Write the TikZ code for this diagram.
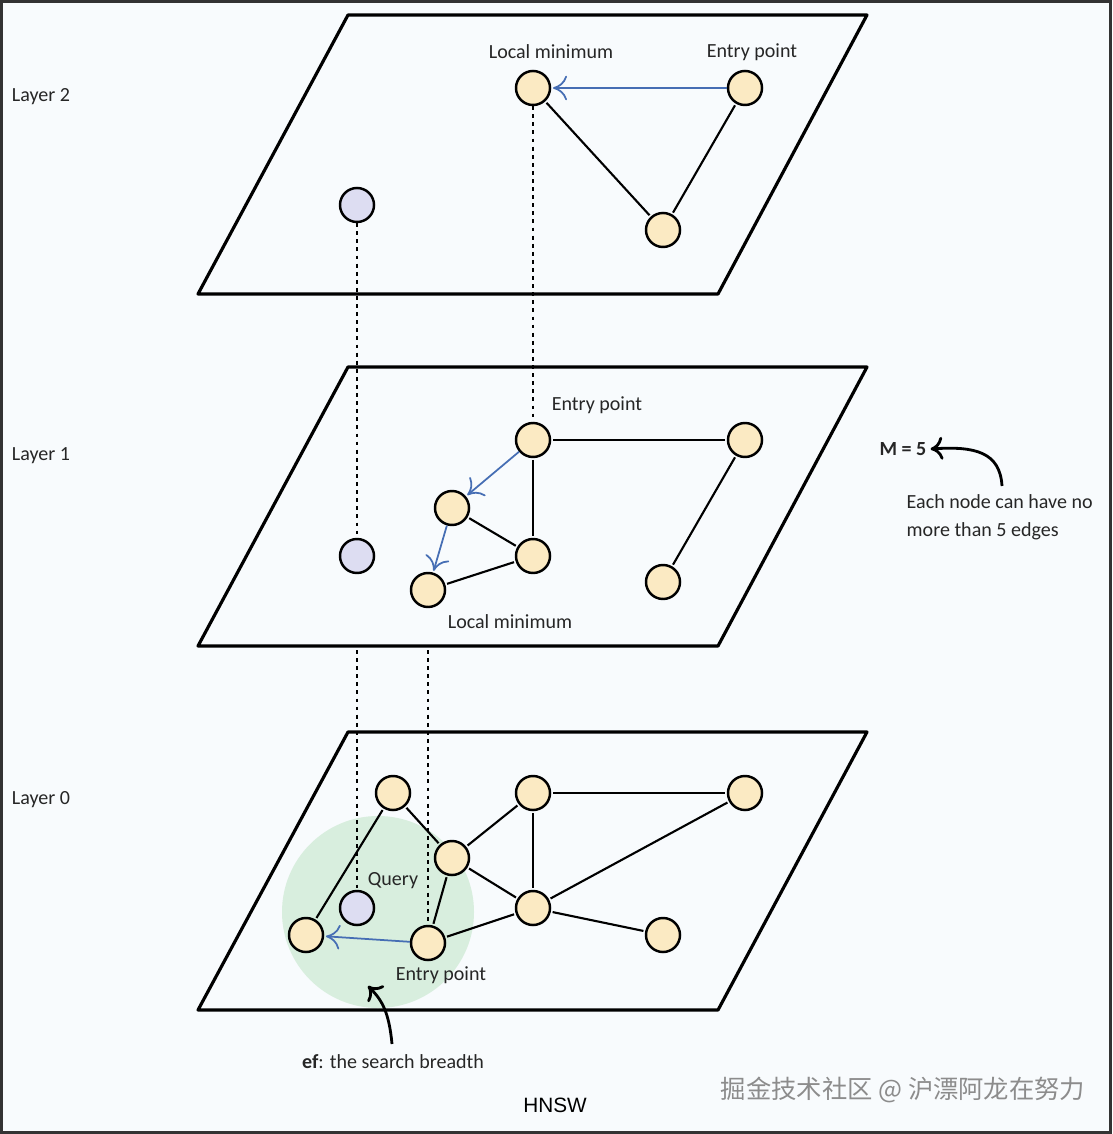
\documentclass[tikz,border=0pt]{standalone}
\usepackage{fontspec}
\setmainfont{Carlito}
\newfontfamily\hnswfont{Liberation Sans}
\newfontfamily\cjk{Noto Sans CJK SC}
\usetikzlibrary{arrows.meta}
\definecolor{bgc}{RGB}{248,251,253}
\definecolor{nodefill}{RGB}{251,234,195}
\definecolor{qfill}{RGB}{221,221,242}
\definecolor{efgreen}{RGB}{216,238,222}
\definecolor{bluearr}{RGB}{70,110,180}
\definecolor{wm}{RGB}{140,140,140}
\tikzset{
  plane/.style={draw=black,line width=0.9pt,line join=round},
  gnode/.style={circle,draw=black,line width=0.7pt,fill=nodefill,minimum size=0.34cm,inner sep=0pt},
  qnode/.style={circle,draw=black,line width=0.7pt,fill=qfill,minimum size=0.34cm,inner sep=0pt},
  edge/.style={draw=black,line width=0.6pt,shorten <=0.5pt,shorten >=0.5pt},
  dots/.style={draw=black,line width=0.65pt,dash pattern=on 1.1pt off 1.2pt},
  search/.style={draw=bluearr,line width=0.5pt,shorten >=0.5pt,-{To[length=4pt,width=7pt]}},
  lbl/.style={font=\fontsize{5.7}{6.8}\selectfont,text=black!85,inner sep=0pt},
  note/.style={draw=black,line width=0.8pt,-{To[length=3.5pt,width=6.5pt]}}
}
\begin{document}
\begin{tikzpicture}[x=0.01cm,y=-0.01cm]
\useasboundingbox (0,0) rectangle (1112,1134);
\draw[fill=bgc,draw=black!80,line width=0.8pt] (1.5,1.5) rectangle (1110.5,1132.5);

% planes
\draw[plane] (348,15) -- (867,15) -- (718,294) -- (198,294) -- cycle;
\draw[plane] (348,367) -- (867,367) -- (718,646) -- (198,646) -- cycle;
\draw[plane] (348,732) -- (867,732) -- (718,1010) -- (198,1010) -- cycle;

% search breadth
\fill[efgreen] (378,912) circle[radius=96];

% layer labels
\node[lbl] (l2) at (41,97) {Layer 2};
\node[lbl] (l1) at (41,456) {Layer 1};
\node[lbl] (l0) at (41,800) {Layer 0};

% Layer 2 nodes
\node[gnode] (a1) at (533,88) {};
\node[gnode] (a2) at (745,88) {};
\node[gnode] (a3) at (663,230) {};
\node[qnode] (aq) at (357,205) {};
\node[lbl] (a1t) at (551,52) {Local minimum};
\node[lbl] (a2t) at (752,52) {Entry point};
\draw[edge] (a1) -- (a3);
\draw[edge] (a2) -- (a3);
\draw[search] (a2) -- (a1);

% Layer 1 nodes
\node[gnode] (b1) at (533,440) {};
\node[gnode] (b2) at (745,440) {};
\node[gnode] (b3) at (452,508) {};
\node[gnode] (b4) at (533,556) {};
\node[gnode] (b5) at (428,590) {};
\node[gnode] (b6) at (663,582) {};
\node[qnode] (bq) at (357,556) {};
\node[lbl] (b1t) at (597,405) {Entry point};
\node[lbl] (b5t) at (510,622) {Local minimum};
\draw[edge] (b1) -- (b2);
\draw[edge] (b1) -- (b4);
\draw[edge] (b3) -- (b4);
\draw[edge] (b4) -- (b5);
\draw[edge] (b2) -- (b6);
\draw[search] (b1) -- (b3);
\draw[search] (b3) -- (b5);

% Layer 0 nodes
\node[gnode] (c1) at (393,793) {};
\node[gnode] (c2) at (533,793) {};
\node[gnode] (c3) at (745,793) {};
\node[gnode] (c4) at (452,858) {};
\node[gnode] (c5) at (533,908) {};
\node[gnode] (c6) at (306,935) {};
\node[gnode] (c7) at (428,943) {};
\node[gnode] (c8) at (663,935) {};
\node[qnode] (cq) at (357,908) {};
\node[lbl] (cqt) at (393,881) {Query};
\node[lbl] (c7t) at (441,975) {Entry point};
\draw[edge] (c1) -- (c4);
\draw[edge] (c1) -- (c6);
\draw[edge] (c4) -- (c2);
\draw[edge] (c4) -- (c5);
\draw[edge] (c4) -- (c7);
\draw[edge] (c2) -- (c5);
\draw[edge] (c2) -- (c3);
\draw[edge] (c3) -- (c5);
\draw[edge] (c5) -- (c7);
\draw[edge] (c5) -- (c8);
\draw[search] (c7) -- (c6);

% vertical links
\coordinate (d1) at (357,650);
\coordinate (d2) at (428,650);
\draw[dots] (aq) -- (bq);
\draw[dots] (a1) -- (b1);
\draw[dots] (d1) -- (cq);
\draw[dots] (d2) -- (c7);

% M = 5 note
\node[lbl,font=\fontsize{5.7}{6.8}\selectfont\bfseries] (m5) at (903,449) {M = 5};
\node[lbl,align=left,anchor=north west] (mtxt) at (906,494) {Each node can have no\\[1.2pt]more than 5 edges};
\coordinate (m5s) at (1002,486);
\draw[note] (m5s) .. controls (1000,452) and (975,446) .. ([xshift=1pt]m5.east);

% ef note
\node[lbl] (ef) at (393,1062) {\textbf{ef}: the search breadth};
\coordinate (efs) at (392,1044);
\coordinate (efe) at (368,986);
\draw[note] (efs) .. controls (389,1012) and (382,1000) .. (efe);

% caption and watermark
\node[inner sep=0pt,font=\hnswfont\fontsize{5.9}{7}\selectfont] (title) at (555,1105) {HNSW};
\node[inner sep=0pt,text=wm,font=\cjk\fontsize{7.2}{8}\selectfont] (wmk) at (903,1090) {掘金技术社区 @ 沪漂阿龙在努力};
\end{tikzpicture}
\end{document}
